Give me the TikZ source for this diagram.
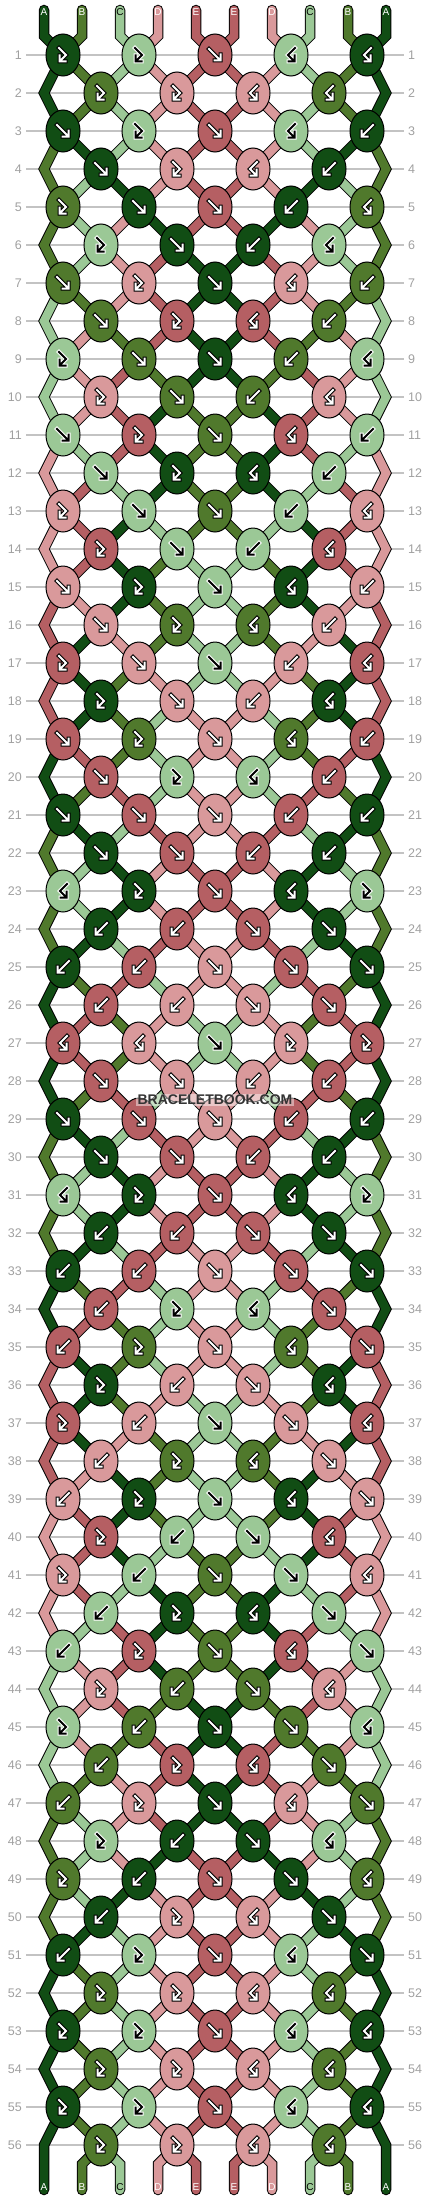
\documentclass[tikz,border=0pt]{standalone}
\usepackage{fontspec}
\setmainfont{Liberation Sans}
\usetikzlibrary{shapes.geometric}
\pgfdeclarelayer{grid}
\pgfdeclarelayer{strings}
\pgfsetlayers{grid,strings,main}
\definecolor{cA}{RGB}{17,77,20}
\definecolor{cB}{RGB}{80,121,44}
\definecolor{cC}{RGB}{155,200,150}
\definecolor{cD}{RGB}{217,153,155}
\definecolor{cE}{RGB}{181,95,99}
\definecolor{gridgray}{RGB}{195,195,195}
\definecolor{labgray}{RGB}{160,160,160}
\definecolor{wmtext}{RGB}{51,51,51}
\expandafter\def\csname mirf\endcsname{b}
\expandafter\def\csname mirb\endcsname{f}
\expandafter\def\csname mirF\endcsname{G}
\expandafter\def\csname mirG\endcsname{F}
\def\gfc{white}\def\gbc{black}
\gdef\strcmds{}
\tikzset{
  knot/.style={ellipse, draw=black, line width=1pt, minimum width=34pt, minimum height=42pt, inner sep=0pt},
  str/.style={draw=black, line width=1pt, double=c#1, double distance=8.5pt, line join=miter},
  gout/.style={draw=\gbc, line width=4pt, line cap=rect, line join=miter},
  gin/.style={draw=\gfc, line width=2pt, line cap=rect, line join=miter},
  gridline/.style={draw=gridgray, line width=1.5pt},
  rowlab/.style={text=labgray, font=\fontsize{12.5}{12.5}\selectfont, inner sep=0pt},
  endlab/.style={font=\fontsize{10}{10}\selectfont, inner sep=0pt},
  wm/.style={font=\fontsize{14}{14}\selectfont\bfseries, text=wmtext, fill=white, fill opacity=0.45, text opacity=1, inner sep=1.5pt},
  gf/.pic={\draw[gout] (-6,-6) -- (4.5,4.5) (5.5,-0.5) -- (5.5,5.5) -- (-0.5,5.5);
           \draw[gin] (-6,-6) -- (4.5,4.5) (5.5,-0.5) -- (5.5,5.5) -- (-0.5,5.5);},
  gb/.pic={\draw[gout] (6,-6) -- (-4.5,4.5) (-5.5,-0.5) -- (-5.5,5.5) -- (0.5,5.5);
           \draw[gin] (6,-6) -- (-4.5,4.5) (-5.5,-0.5) -- (-5.5,5.5) -- (0.5,5.5);},
  gF/.pic={\draw[gout] (-4,-7) -- (3,0) -- (-2.5,5.5) (-3.5,0.5) -- (-3.5,6.5) -- (2.5,6.5);
           \draw[gin] (-4,-7) -- (3,0) -- (-2.5,5.5) (-3.5,0.5) -- (-3.5,6.5) -- (2.5,6.5);},
  gG/.pic={\draw[gout] (4,-7) -- (-3,0) -- (2.5,5.5) (3.5,0.5) -- (3.5,6.5) -- (-2.5,6.5);
           \draw[gin] (4,-7) -- (-3,0) -- (2.5,5.5) (3.5,0.5) -- (3.5,6.5) -- (-2.5,6.5);},
}
\newcommand\addstr[1]{\xdef\strcmds{\unexpanded\expandafter{\strcmds}#1}}
\newcommand\swapstr{%
  \expandafter\xdef\csname s\kp\endcsname{\cR}%
  \expandafter\xdef\csname s\kq\endcsname{\cL}}
\newcommand\doKnot[3]{%
  \pgfmathtruncatemacro\kodd{mod(#1,2)}%
  \ifnum\kodd=1 
    \pgfmathtruncatemacro\kp{2*#2-1}%
    \pgfmathsetmacro\kx{63+76*(#2-1)}%
  \else
    \pgfmathtruncatemacro\kp{2*#2}%
    \pgfmathsetmacro\kx{101+76*(#2-1)}%
  \fi
  \pgfmathtruncatemacro\kq{\kp+1}%
  \pgfmathsetmacro\ky{55+38*(#1-1)}%
  \pgfmathtruncatemacro\rp{#1-1}%
  \pgfmathtruncatemacro\rpp{#1-2}%
  \pgfmathtruncatemacro\km{#2-1}%
  \pgfmathtruncatemacro\kn{#2+1}%
  \pgfmathtruncatemacro\rr{#1}%
  \edef\cL{\csname s\kp\endcsname}%
  \edef\cR{\csname s\kq\endcsname}%
  \edef\kt{#3}%
  \if f\kt \edef\kc{\cL}\fi
  \if F\kt \edef\kc{\cL}\fi
  \if b\kt \edef\kc{\cR}\fi
  \if G\kt \edef\kc{\cR}\fi
  \node[knot, fill=c\kc] (K-\rr-#2) at (\kx,\ky) {};
  \ifnum\rr=1 
    \addstr{\noexpand\draw[str=\cL, line cap=round] (T\kp) -- (U\kp) -- (K-\rr-#2.center);}%
    \addstr{\noexpand\draw[str=\cR, line cap=round] (T\kq) -- (U\kq) -- (K-\rr-#2.center);}%
  \else
    \ifnum\kodd=1 
      \ifnum#2=1 
        \addstr{\noexpand\draw[str=\cL] (K-\rpp-1.center) -- (Z-\rp-L) -- (K-\rr-1.center);}%
      \else
        \addstr{\noexpand\draw[str=\cL] (K-\rp-\km.center) -- (K-\rr-#2.center);}%
      \fi
      \ifnum#2=5 
        \addstr{\noexpand\draw[str=\cR] (K-\rpp-5.center) -- (Z-\rp-R) -- (K-\rr-5.center);}%
      \else
        \addstr{\noexpand\draw[str=\cR] (K-\rp-#2.center) -- (K-\rr-#2.center);}%
      \fi
    \else
      \addstr{\noexpand\draw[str=\cL] (K-\rp-#2.center) -- (K-\rr-#2.center);}%
      \addstr{\noexpand\draw[str=\cR] (K-\rp-\kn.center) -- (K-\rr-#2.center);}%
    \fi
  \fi
  \if C\kc \def\gfc{black}\def\gbc{white}\else\def\gfc{white}\def\gbc{black}\fi
  \edef\tmpglyph{\noexpand\pic at (\kx,\ky) {g\kt};}\tmpglyph
  \if f\kt \swapstr\fi
  \if b\kt \swapstr\fi
}
\begin{document}
\begin{tikzpicture}[x=1pt,y=-1pt]
\useasboundingbox (0,0) rectangle (430,2200);
% grid, labels, zigzag points
\begin{pgfonlayer}{grid}
\foreach \r in {1,...,56}{
  \pgfmathsetmacro\yy{55+38*(\r-1)}
  \draw[gridline] (26,\yy) -- (404,\yy);
  \node[rowlab, anchor=east] (ll-\r) at (22,\yy) {\r};
  \node[rowlab, anchor=west] (rl-\r) at (408,\yy) {\r};
}
\end{pgfonlayer}
\foreach \r in {2,4,...,56}{
  \pgfmathsetmacro\yy{55+38*(\r-1)}
  \coordinate (Z-\r-L) at (44,\yy);
  \coordinate (Z-\r-R) at (386,\yy);
}
% string ends and initial colours
\foreach \i/\sv in {1/A,2/B,3/C,4/D,5/E,6/E,7/D,8/C,9/B,10/A}{
  \pgfmathsetmacro\xx{6+38*\i}
  \coordinate (T\i) at (\xx,10);
  \coordinate (U\i) at (\xx,36);
  \coordinate (V\i) at (\xx,2164);
  \coordinate (B\i) at (\xx,2190);
  \expandafter\xdef\csname s\i\endcsname{\sv}
}
% knots
\foreach \rw/\ta/\tb/\tc in {1/F/F/f, 2/F/F/n, 3/f/F/f, 4/f/F/n, 5/F/f/f, 6/F/f/n,
  7/f/F/f, 8/f/F/n, 9/F/f/f, 10/F/f/n, 11/f/F/f, 12/f/F/n, 13/F/f/f, 14/F/f/n,
  15/f/F/f, 16/f/F/n, 17/F/f/f, 18/F/f/n, 19/f/F/f, 20/f/F/n, 21/f/f/f, 22/f/f/n,
  23/G/F/f, 24/b/b/n, 25/b/b/f, 26/b/b/n, 27/G/G/f, 28/f/f/n, 29/f/f/f, 30/f/f/n,
  31/G/F/f, 32/b/b/n, 33/b/b/f, 34/b/F/n, 35/b/F/f, 36/F/b/n, 37/F/b/f, 38/b/F/n,
  39/b/F/f, 40/F/b/n, 41/F/b/f, 42/b/F/n, 43/b/F/f, 44/F/b/n, 45/F/b/f, 46/b/F/n,
  47/b/F/f, 48/F/b/n, 49/F/b/f, 50/b/F/n, 51/b/F/f, 52/F/F/n, 53/F/F/f, 54/F/F/n,
  55/F/F/f, 56/F/F/n}{
  \ifodd\rw
    \doKnot{\rw}{1}{\ta}\doKnot{\rw}{2}{\tb}\doKnot{\rw}{3}{\tc}%
    \doKnot{\rw}{4}{\csname mir\tb\endcsname}\doKnot{\rw}{5}{\csname mir\ta\endcsname}%
  \else
    \doKnot{\rw}{1}{\ta}\doKnot{\rw}{2}{\tb}%
    \doKnot{\rw}{3}{\csname mir\tb\endcsname}\doKnot{\rw}{4}{\csname mir\ta\endcsname}%
  \fi
}
% strings (under the knots)
\begin{pgfonlayer}{strings}
\strcmds
\foreach \k in {1,...,4}{
  \pgfmathtruncatemacro\kp{2*\k}
  \pgfmathtruncatemacro\kq{2*\k+1}
  \edef\cL{\csname s\kp\endcsname}
  \edef\cR{\csname s\kq\endcsname}
  \draw[str=\cL, line cap=round] (K-56-\k.center) -- (V\kp) -- (B\kp);
  \draw[str=\cR, line cap=round] (K-56-\k.center) -- (V\kq) -- (B\kq);
}
\edef\cL{\csname s1\endcsname}
\edef\cR{\csname s10\endcsname}
\draw[str=\cL, line cap=round] (K-55-1.center) -- (Z-56-L) -- (B1);
\draw[str=\cR, line cap=round] (K-55-5.center) -- (Z-56-R) -- (B10);
\end{pgfonlayer}
% end letters
\foreach \i/\sv/\tcol in {1/A/white,2/B/white,3/C/black,4/D/white,5/E/white,6/E/white,7/D/white,8/C/black,9/B/white,10/A/white}{
  \pgfmathsetmacro\xx{6+38*\i}
  \node[endlab, text=\tcol] (tl-\i) at (\xx,12) {\sv};
  \node[endlab, text=\tcol] (bl-\i) at (\xx,2187) {\sv};
}
\node[wm] (wm) at (215,1100) {BRACELETBOOK.COM};
\end{tikzpicture}
\end{document}
